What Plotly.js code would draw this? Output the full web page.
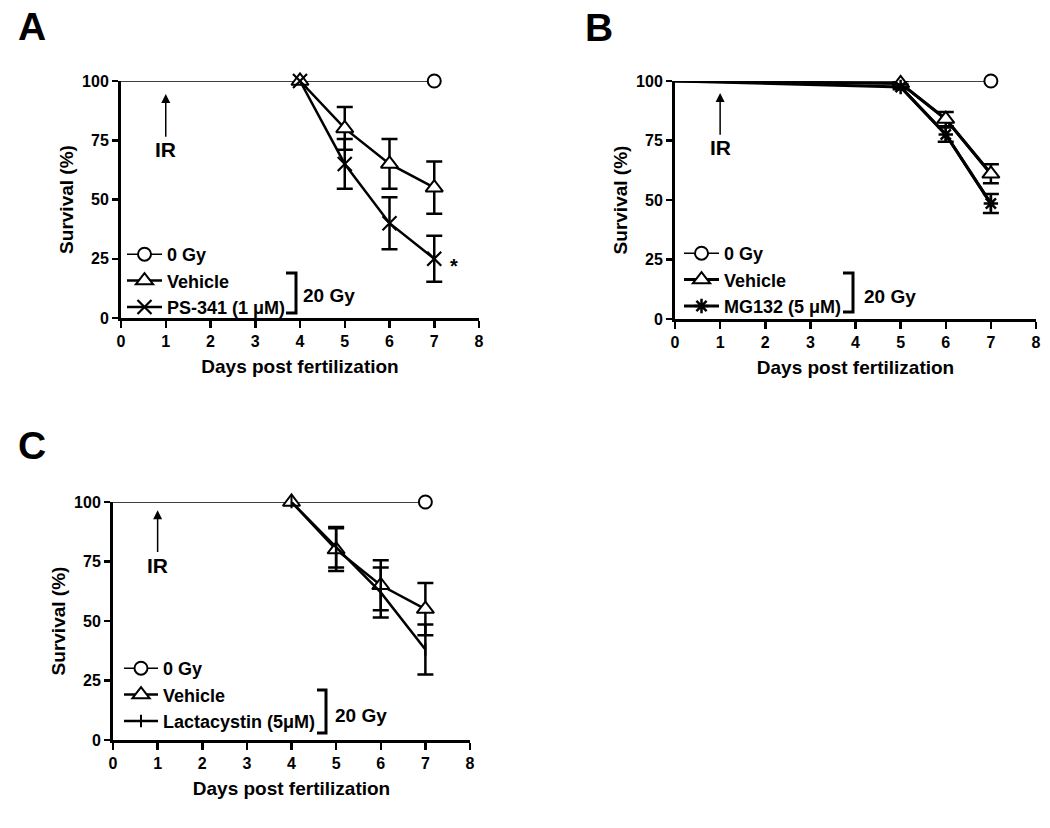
<!DOCTYPE html>
<html>
<head>
<meta charset="utf-8">
<script src="https://cdn.plot.ly/plotly-3.0.1.min.js"></script>
<style>html,body{margin:0;padding:0;background:#fff;}#chart{width:1050px;height:828px;}</style>
</head>
<body>
<div id="chart"></div>
<script>
// ---------- DATA ----------
// Panel A
const daysA_0Gy = [0, 7];
const survA_0Gy = [100, 100];
const daysA_trt = [4, 5, 6, 7];
const survA_vehicle = [100, 80, 65, 55];
const errA_vehicle = [NaN, 9, 10.5, 11];
const survA_ps341 = [100, 65, 40, 25];
const errA_ps341 = [NaN, 10.5, 11, 9.7];
// Panel B
const daysB_0Gy = [0, 7];
const survB_0Gy = [100, 100];
const daysB_trt = [0, 5, 6, 7];
const survB_vehicle = [100, 99, 84, 61];
const errB_vehicle = [NaN, 1, 3, 4];
const survB_mg132 = [100, 97.5, 77.5, 48.5];
const errB_mg132 = [NaN, 1, 3, 4];
// Panel C
const daysC_0Gy = [0, 7];
const survC_0Gy = [100, 100];
const daysC_trt = [4, 5, 6, 7];
const survC_vehicle = [100, 80, 65, 55];
const errC_vehicle = [NaN, 9, 10.5, 11];
const survC_lacta = [100, 81, 62, 38];
const errC_lacta = [NaN, 8.5, 10.5, 10.5];

const xTicks = [0, 1, 2, 3, 4, 5, 6, 7, 8];
const yTicks = [0, 25, 50, 75, 100];
const xTitle = 'Days post fertilization';
const yTitle = 'Survival (%)';
const labelsA = ['0 Gy', 'Vehicle', 'PS-341 (1 μM)'];
const labelsB = ['0 Gy', 'Vehicle', 'MG132 (5 μM)'];
const labelsC = ['0 Gy', 'Vehicle', 'Lactacystin (5μM)'];
const panelLetters = ['A', 'B', 'C'];

// ---------- HELPERS ----------
const W = 1050, H = 828;
const FONT = 'Liberation Sans, Arial, sans-serif';
const px = v => v / W;
const py = v => 1 - v / H;

const circleMk = {symbol: 'circle', size: 13, color: '#fff', line: {color: '#000', width: 2}};
const triMk = {symbol: 'triangle-up', size: 15, color: '#fff', line: {color: '#000', width: 2}};
const xMk = {symbol: 'x-thin-open', size: 14, color: '#000', line: {color: '#000', width: 2.2}};
const starMk = {symbol: 'asterisk-open', size: 12, color: '#000', line: {color: '#000', width: 2.5}};
const tickMk = {symbol: 'line-ns-open', size: 9, color: '#000', line: {color: '#000', width: 2}};

function errOpt(arr) {
  return {type: 'data', array: arr, symmetric: true, visible: true, color: '#000', thickness: 2.5, width: 8};
}

const traces = [];
function addControl(xs, ys, name, xa, ya, lg) {
  traces.push({x: xs, y: ys, mode: 'lines', line: {color: '#000', width: 1.5}, xaxis: xa, yaxis: ya,
               showlegend: false, hoverinfo: 'skip', cliponaxis: false});
  traces.push({x: xs.slice(-1), y: ys.slice(-1), mode: 'lines+markers', name: name,
               line: {color: '#000', width: 1.5}, marker: circleMk, xaxis: xa, yaxis: ya,
               legend: lg, cliponaxis: false});
}
function addSeries(xs, ys, errs, name, mk, xa, ya, lg, startIdx, lw) {
  if (startIdx > 0) {
    traces.push({x: xs, y: ys, mode: 'lines', line: {color: '#000', width: lw}, xaxis: xa, yaxis: ya,
                 showlegend: false, hoverinfo: 'skip', cliponaxis: false});
  }
  traces.push({x: xs.slice(startIdx), y: ys.slice(startIdx), mode: 'lines+markers', name: name,
               line: {color: '#000', width: lw}, marker: mk, error_y: errOpt(errs.slice(startIdx)),
               xaxis: xa, yaxis: ya, legend: lg, cliponaxis: false});
}

// Panel A
addControl(daysA_0Gy, survA_0Gy, labelsA[0], 'x', 'y', 'legend');
addSeries(daysA_trt, survA_vehicle, errA_vehicle, labelsA[1], triMk, 'x', 'y', 'legend', 0, 2.5);
addSeries(daysA_trt, survA_ps341, errA_ps341, labelsA[2], xMk, 'x', 'y', 'legend', 0, 2.5);
// Panel B
addControl(daysB_0Gy, survB_0Gy, labelsB[0], 'x2', 'y2', 'legend2');
addSeries(daysB_trt, survB_vehicle, errB_vehicle, labelsB[1], triMk, 'x2', 'y2', 'legend2', 1, 3);
addSeries(daysB_trt, survB_mg132, errB_mg132, labelsB[2], starMk, 'x2', 'y2', 'legend2', 1, 3);
// Panel C
addControl(daysC_0Gy, survC_0Gy, labelsC[0], 'x3', 'y3', 'legend3');
addSeries(daysC_trt, survC_vehicle, errC_vehicle, labelsC[1], triMk, 'x3', 'y3', 'legend3', 0, 2.5);
addSeries(daysC_trt, survC_lacta, errC_lacta, labelsC[2], tickMk, 'x3', 'y3', 'legend3', 0, 2.5);

function xAxis(domain, anchor) {
  return {domain: domain, anchor: anchor, range: [0, 8], tickvals: xTicks, ticktext: xTicks.map(String),
          showline: true, linewidth: 3, linecolor: '#000', ticks: 'outside', ticklen: 7, tickwidth: 2.5,
          tickcolor: '#000', showgrid: false, zeroline: false, fixedrange: true,
          tickfont: {family: FONT, size: 16, color: '#000', weight: 'bold'},
          title: {text: xTitle, standoff: 11, font: {family: FONT, size: 19, color: '#000', weight: 'bold'}}};
}
function yAxis(domain, anchor) {
  return {domain: domain, anchor: anchor, range: [0, 100], tickvals: yTicks, ticktext: yTicks.map(String),
          showline: true, linewidth: 3, linecolor: '#000', ticks: 'outside', ticklen: 6, tickwidth: 2.5,
          tickcolor: '#000', showgrid: false, zeroline: false, fixedrange: true,
          tickfont: {family: FONT, size: 16, color: '#000', weight: 'bold'},
          title: {text: yTitle, standoff: 4, font: {family: FONT, size: 19, color: '#000', weight: 'bold'}}};
}
function legendOpt(xp, yp, iw) {
  return {x: px(xp), y: py(yp), xanchor: 'left', yanchor: 'top', bgcolor: 'rgba(0,0,0,0)',
          borderwidth: 0, itemwidth: iw, font: {family: FONT, size: 18, color: '#000', weight: 'bold'},
          itemclick: false, itemdoubleclick: false};
}
function bracket(x0, x1, y0, y1) {
  return {type: 'path', xref: 'paper', yref: 'paper',
          path: `M ${px(x0)} ${py(y0)} L ${px(x1)} ${py(y0)} L ${px(x1)} ${py(y1)} L ${px(x0)} ${py(y1)}`,
          line: {color: '#000', width: 3}};
}
function txt(xp, yp, text, size, anchor) {
  return {xref: 'paper', yref: 'paper', x: px(xp), y: py(yp), text: text, showarrow: false,
          xanchor: anchor || 'left', yanchor: 'middle',
          font: {family: FONT, size: size, color: '#000', weight: 'bold'}};
}
function irArrow(xa, ya, tipY, textY) {
  return {xref: xa, yref: ya, axref: xa, ayref: ya, x: 1, y: tipY, ax: 1, ay: textY, text: 'IR',
          showarrow: true, arrowhead: 2, arrowsize: 1.2, arrowwidth: 1.5, arrowcolor: '#000', standoff: 0,
          font: {family: FONT, size: 21, color: '#000', weight: 'bold'}};
}

const layout = {
  width: W, height: H, margin: {l: 0, r: 0, t: 0, b: 0},
  paper_bgcolor: '#fff', plot_bgcolor: 'rgba(0,0,0,0)', showlegend: true,
  font: {family: FONT, color: '#000'},
  xaxis: xAxis([px(121), px(479)], 'y'),
  yaxis: yAxis([py(318), py(81)], 'x'),
  xaxis2: xAxis([px(675), px(1036)], 'y2'),
  yaxis2: yAxis([py(319), py(81)], 'x2'),
  xaxis3: xAxis([px(113), px(470)], 'y3'),
  yaxis3: yAxis([py(740), py(502)], 'x3'),
  legend: legendOpt(122, 236, 35),
  legend2: legendOpt(679, 235, 35),
  legend3: legendOpt(119, 650, 34),
  shapes: [bracket(286, 296, 273, 313), bracket(843, 853, 273, 312), bracket(317, 326, 690, 733)],
  annotations: [
    txt(301, 295, '20 Gy', 19), txt(862, 296, '20 Gy', 19), txt(333, 715, '20 Gy', 19),
    txt(32, 26, panelLetters[0], 39, 'center'), txt(599, 27, panelLetters[1], 39, 'center'),
    txt(32, 446, panelLetters[2], 39, 'center'),
    irArrow('x', 'y', 94.5, 71), irArrow('x2', 'y2', 95, 72), irArrow('x3', 'y3', 96.5, 73.5),
    {xref: 'x', yref: 'y', x: 7.3, y: 22, text: '*', showarrow: false, xanchor: 'left', yanchor: 'middle',
     font: {family: FONT, size: 20, color: '#000', weight: 'bold'}}
  ]
};

Plotly.newPlot('chart', traces, layout, {displayModeBar: false, staticPlot: true});
</script>
</body>
</html>
